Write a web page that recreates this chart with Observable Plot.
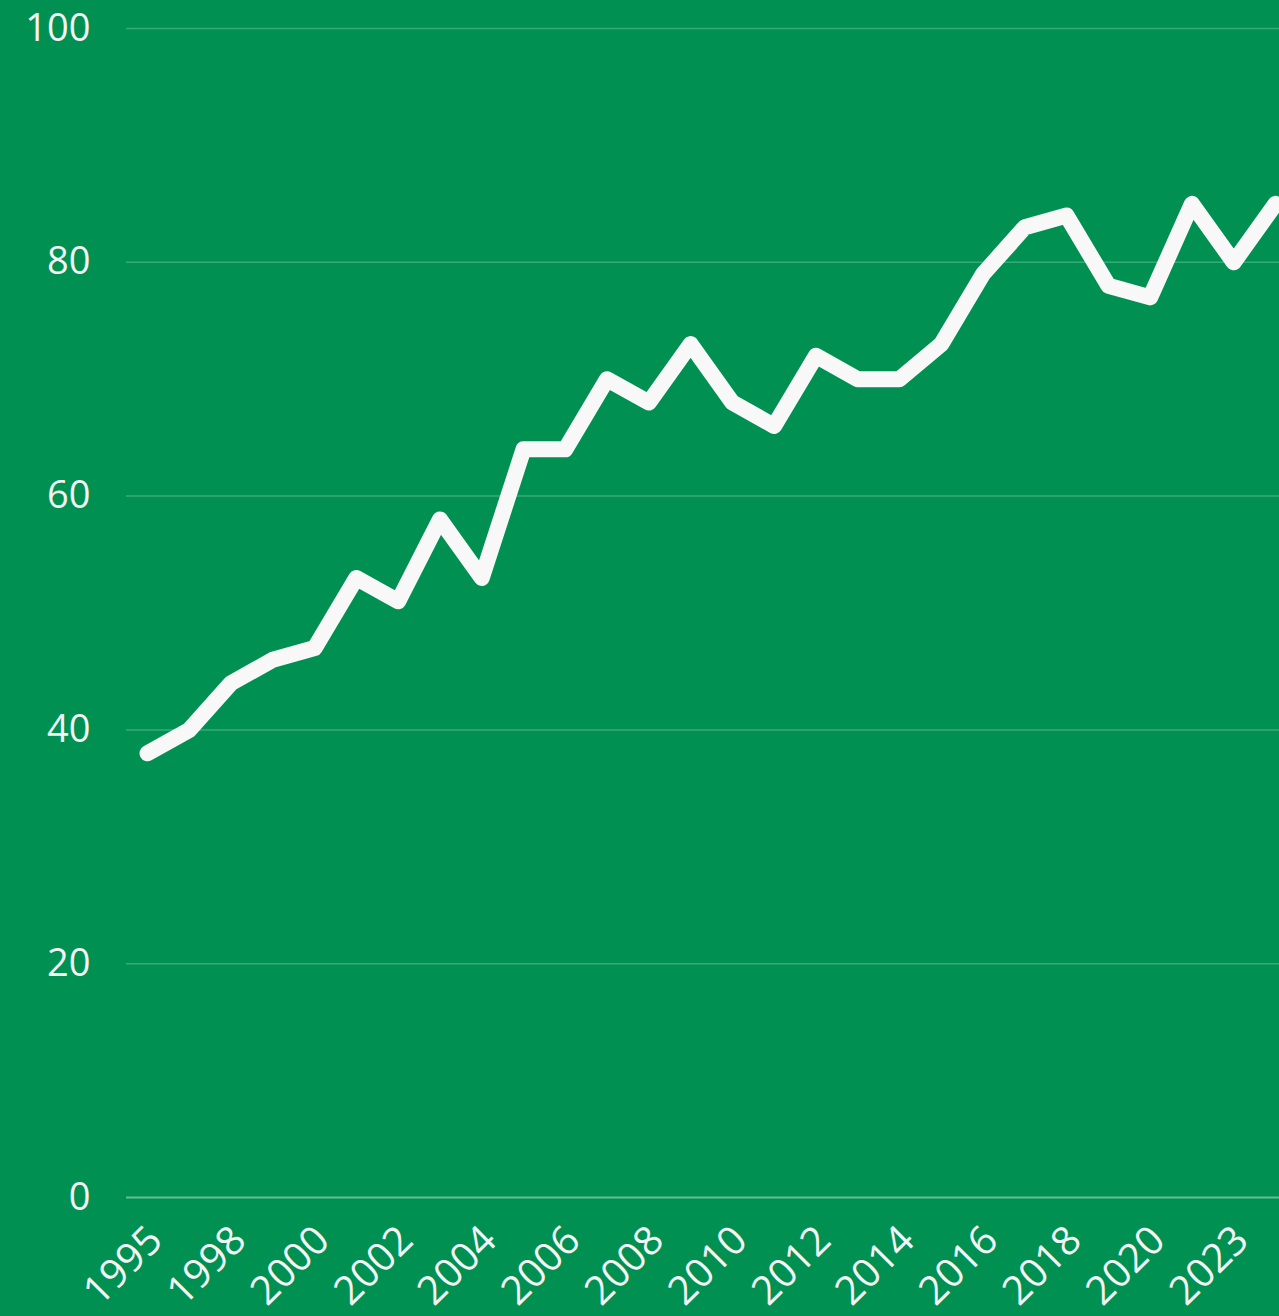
<!DOCTYPE html>
<html>
<head>
<meta charset="utf-8">
<script src="https://cdn.jsdelivr.net/npm/d3@7"></script>
<script src="https://cdn.jsdelivr.net/npm/@observablehq/plot@0.6"></script>
<style>
  html, body { margin: 0; padding: 0; background: #009152; }
  #chart svg { display: block; }
</style>
</head>
<body>
<div id="chart"></div>
<script>
const years = [1995, 1996, 1998, 1999, 2000, 2001, 2002, 2003, 2004, 2005, 2006, 2007, 2008, 2009,
  2010, 2011, 2012, 2013, 2014, 2015, 2016, 2017, 2018, 2019, 2020, 2021, 2023, 2024];
const values = [38, 40, 44, 46, 47, 53, 51, 58, 53, 64, 64, 70, 68, 73,
  68, 66, 72, 70, 70, 73, 79, 83, 84, 78, 77, 85, 80, 85];
const xTickLabels = [1995, 1998, 2000, 2002, 2004, 2006, 2008, 2010, 2012, 2014, 2016, 2018, 2020, 2023];
const yTicks = [0, 20, 40, 60, 80, 100];

const data = years.map((y, i) => ({year: y, value: values[i]}));

const chart = Plot.plot({
  width: 1279,
  height: 1316,
  marginLeft: 147,
  marginRight: 4,
  marginTop: 28,
  marginBottom: 119,
  style: {background: "#009152", color: "#f4f4f4", fontFamily: "'Open Sans', sans-serif", fontSize: "38px"},
  x: {type: "point", domain: years, padding: 0, round: false, label: null},
  y: {domain: [0, 100], label: null},
  marks: [
    Plot.ruleY(yTicks.filter(d => d > 0), {stroke: "#ffffff", strokeOpacity: 0.22, strokeWidth: 1.5, insetLeft: -21, insetRight: -4}),
    Plot.ruleY([0], {stroke: "#ffffff", strokeOpacity: 0.4, strokeWidth: 2, insetLeft: -21, insetRight: -4}),
    Plot.axisY({ticks: yTicks, tickSize: 0, tickPadding: 57, label: null, fontSize: 38}),
    Plot.axisX({ticks: xTickLabels, tickFormat: d => String(d), tickSize: 0, tickPadding: 36, tickRotate: -45, label: null, fontSize: 40, dx: 8}),
    Plot.line(data, {x: "year", y: "value", stroke: "#f8f8f8", strokeWidth: 16, strokeLinecap: "round", strokeLinejoin: "round"})
  ]
});
document.getElementById("chart").appendChild(chart);
</script>
</body>
</html>
